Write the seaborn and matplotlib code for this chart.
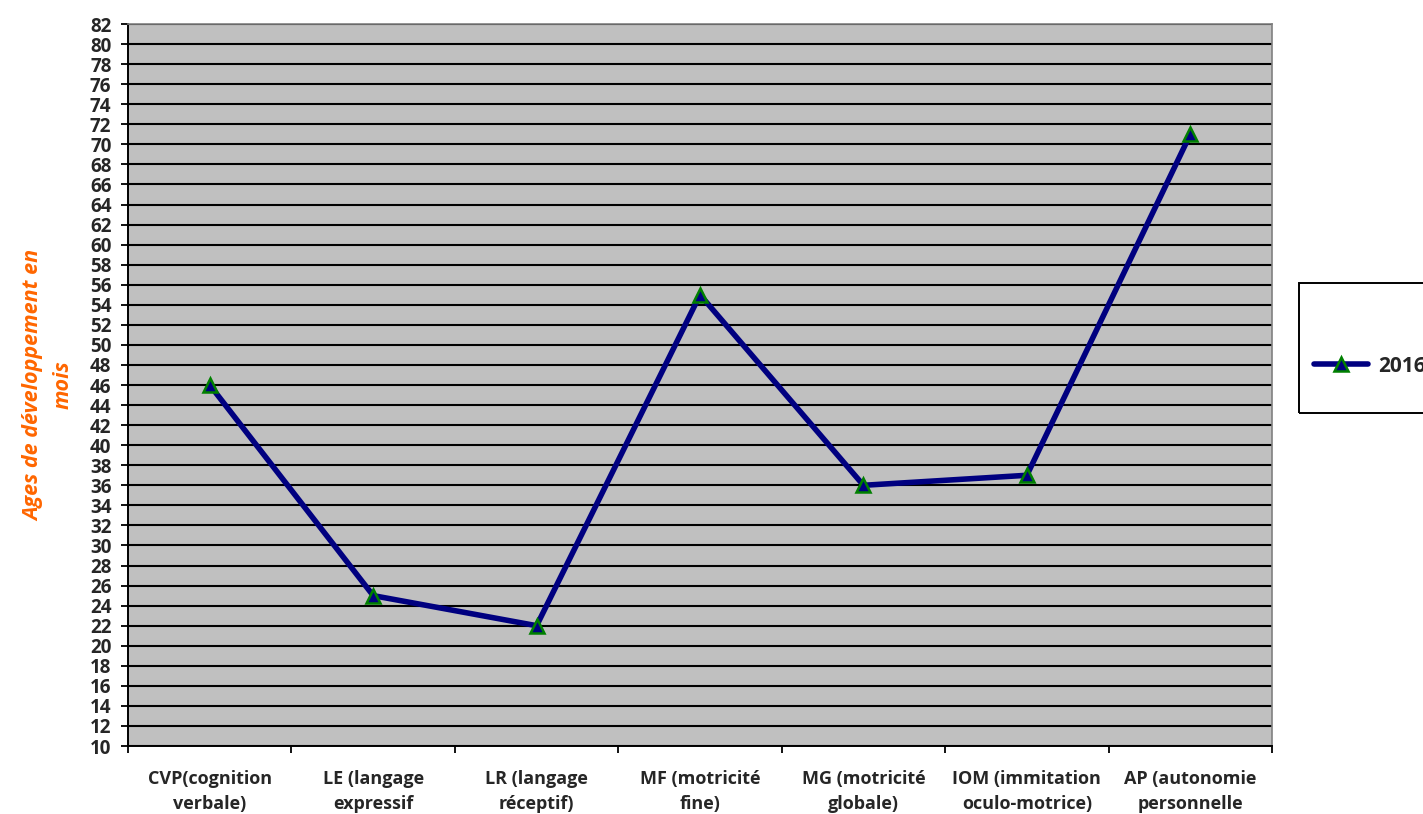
import matplotlib
matplotlib.use("Agg")
import matplotlib.pyplot as plt
from matplotlib.patches import Rectangle
import seaborn as sns
import pandas as pd

categories = [
    "CVP(cognition\nverbale)",
    "LE (langage\nexpressif",
    "LR (langage\nréceptif)",
    "MF (motricité\nfine)",
    "MG (motricité\nglobale)",
    "IOM (immitation\noculo-motrice)",
    "AP (autonomie\npersonnelle",
]
values_2016 = [46, 25, 22, 55, 36, 37, 71]
series_name = "2016"
y_ticks = list(range(10, 83, 2))

sns.set_theme(style="white")
plt.rcParams["font.family"] = ["Open Sans", "DejaVu Sans"]

df = pd.DataFrame({"cat": range(len(categories)), "val": values_2016})

fig = plt.figure(figsize=(14.23, 8.14), dpi=100)
ax = fig.add_axes([0.0900, 0.0835, 0.8039, 0.887])
ax.set_facecolor("#C0C0C0")

sns.lineplot(data=df, x="cat", y="val", ax=ax, color="#000080", linewidth=4.0,
             marker="^", markersize=10.5, markerfacecolor="#000080",
             markeredgecolor="#008000", markeredgewidth=1.8, label=series_name,
             zorder=3)

ax.set_xlim(-0.5, len(categories) - 0.5)
ax.set_ylim(10, 82)
ax.set_yticks(y_ticks)
ax.set_yticklabels([str(t) for t in y_ticks], fontsize=13.5, fontweight="bold")
ax.yaxis.grid(True, color="black", linewidth=1.5)
ax.set_axisbelow(True)

# category boundaries carry the ticks; names sit centred between them
ax.set_xticks([i - 0.5 for i in range(len(categories) + 1)])
ax.set_xticklabels([])
ax.set_xticks(range(len(categories)), minor=True)
ax.set_xticklabels(categories, minor=True, fontsize=13, fontweight="bold",
                   linespacing=1.55)
ax.tick_params(axis="x", which="minor", length=0, pad=17)
ax.tick_params(axis="x", which="major", length=5, width=1.3, color="black",
               direction="out", bottom=True)
ax.tick_params(axis="y", length=5, width=1.3, color="black", direction="out",
               left=True, pad=7)
ax.set_xlabel("")

ax.set_ylabel("Ages de développement en\nmois", color="#FF6600", fontsize=15.5,
              fontweight="bold", fontstyle="italic", linespacing=1.5)
ax.yaxis.set_label_coords(-0.048, 0.5)

for side in ["left", "bottom"]:
    ax.spines[side].set_color("black")
    ax.spines[side].set_linewidth(1.4)
for side in ["top", "right"]:
    ax.spines[side].set_color("#808080")
    ax.spines[side].set_linewidth(1.2)

# legend box on the right, running past the figure edge
fig.patches.append(Rectangle((1299 / 1423, 1 - 413 / 814), 0.2, 130 / 814,
                             transform=fig.transFigure, facecolor="none",
                             edgecolor="black", linewidth=1.4, zorder=-1))
leg = ax.legend(loc="center left", bbox_to_anchor=(1314 / 1423, 1 - 366 / 814),
                bbox_transform=fig.transFigure, frameon=False,
                prop={"weight": "bold", "size": 15}, handlelength=2.6,
                borderpad=0, handletextpad=0.5, borderaxespad=0)

fig.savefig("out.png", dpi=100)
